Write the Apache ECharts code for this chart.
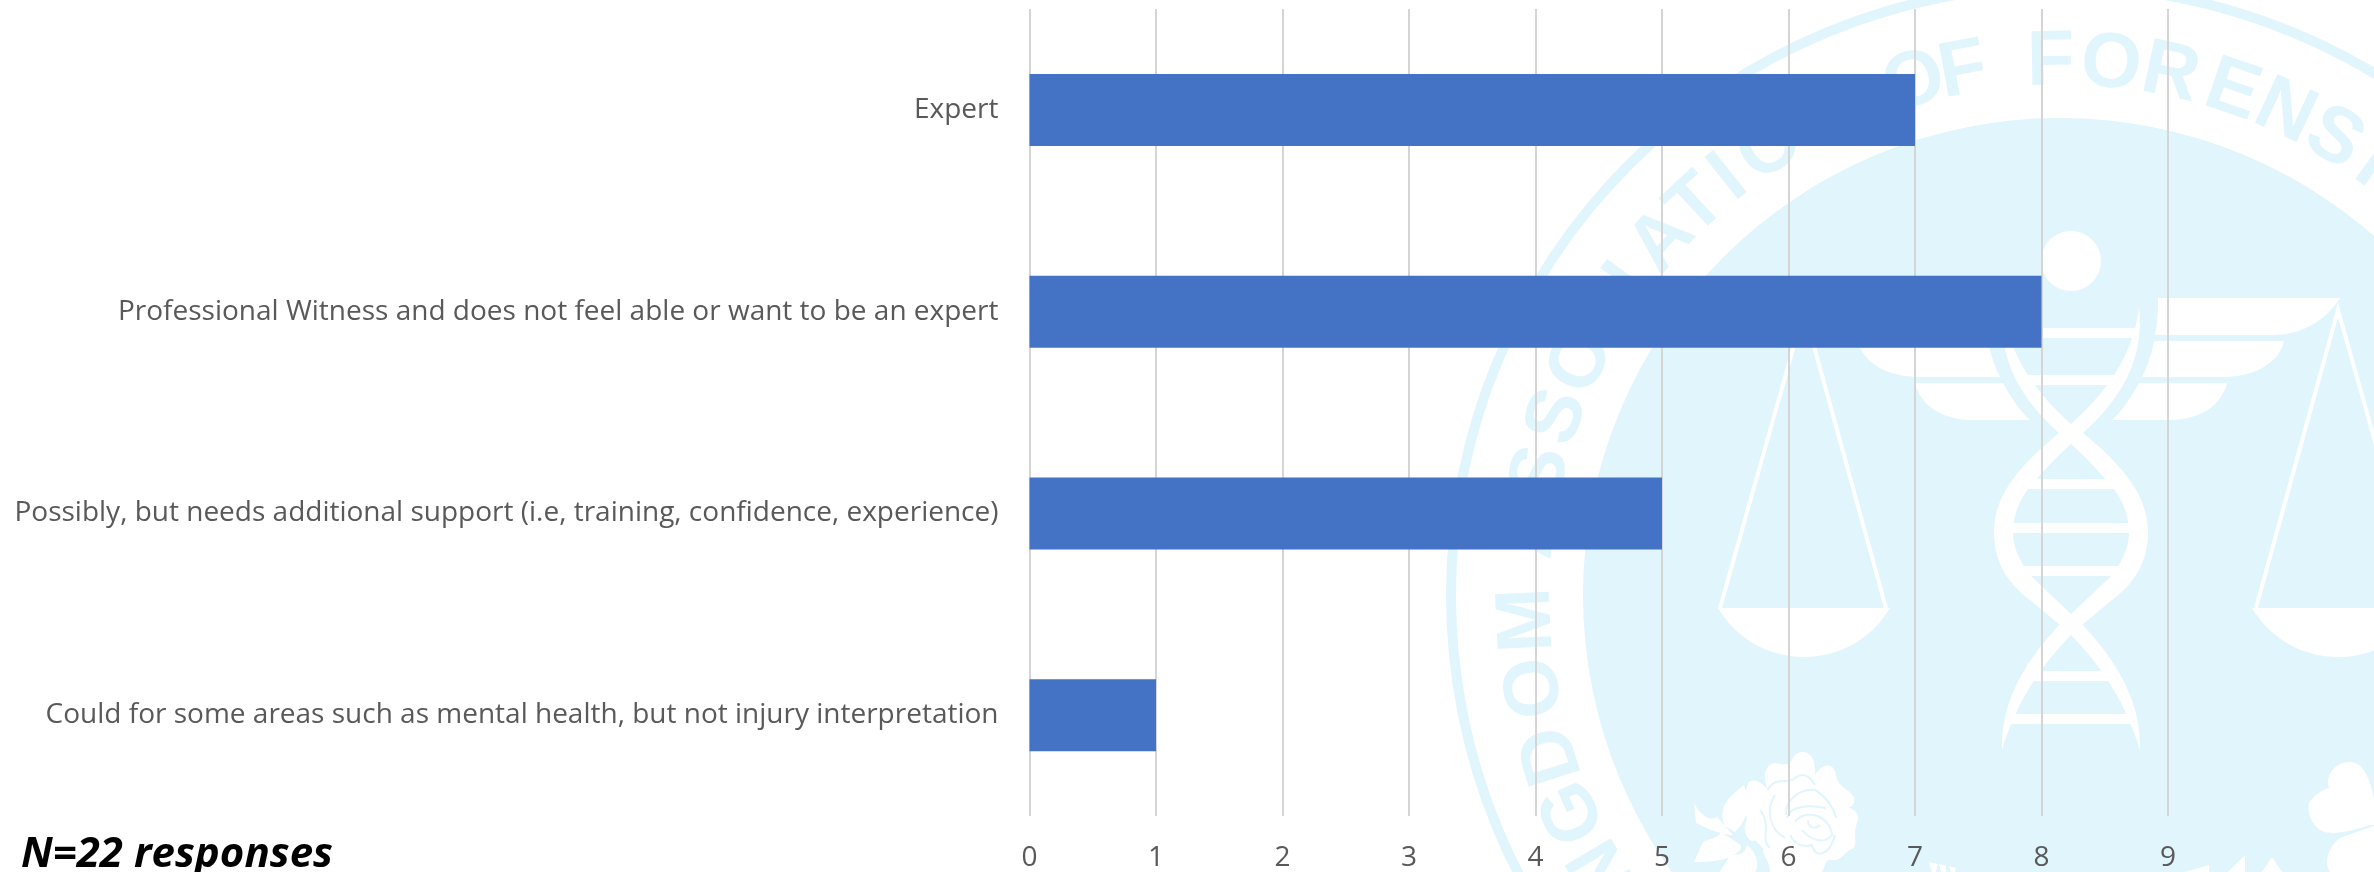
<!DOCTYPE html>
<html>
<head>
<meta charset="utf-8">
<title>Expert or professional witness</title>
<script src="https://cdn.jsdelivr.net/npm/echarts@6/dist/echarts.min.js"></script>
<style>
  html, body { margin: 0; padding: 0; background: #fff; }
  #main { width: 2374px; height: 872px; }
</style>
</head>
<body>
<div id="main"></div>
<script>
// chart data
var categories = [
  'Expert',
  'Professional Witness and does not feel able or want to be an expert',
  'Possibly, but needs additional support (i.e, training, confidence, experience)',
  'Could for some areas such as mental health, but not injury interpretation'
];
var responses = [7, 8, 5, 1];
var tickMax = 9;
var note = 'N=22 responses';

// watermark logo behind the chart
var logoBlue = '#e1f5fd';
var logoX = 2060, logoY = 595, logoAxis = 2071;
var ringLetters = 'NGDOMASSOCIATIONOFFORENSIC'.split('');
var ringAngles = [-121, -114, -107.5, -100, -92.7, -83, -76.8, -70.5, -64, -58.5, -54, -48.3, -43,
  -38.5, -33, -26, -15.9, -10.5, -1, 5.5, 12, 18.9, 25, 31, 36, 41];

// graphic has no plain path type, so each svg path gets registered as a shape
var pathCount = 0;
function logoPath(d, style) {
  var name = 'logoPath' + (pathCount++);
  echarts.graphic.registerShape(name, echarts.graphic.extendPath(d, {}));
  return { type: name, style: style || { fill: '#fff' } };
}
function swirl(d) {
  return logoPath(d, { fill: 'none', stroke: logoBlue, lineWidth: 2 });
}
// the wings, scales and dna are symmetric around the logo axis
function mirror(d) {
  return d.replace(/(\d+) (\d+)/g, function (m, x, y) {
    return (2 * logoAxis - Number(x)) + ' ' + y;
  });
}
function dot(x, y, r, fill) {
  return { type: 'circle', shape: { cx: x, cy: y, r: r }, style: { fill: fill || '#fff' } };
}

function buildLogo() {
  var items = [
    { type: 'ring', shape: { cx: logoX, cy: logoY, r: 614, r0: 604 }, style: { fill: logoBlue } },
    dot(logoX, logoY, 477, logoBlue)
  ];
  ringLetters.forEach(function (ch, i) {
    var a = ringAngles[i] * Math.PI / 180;
    items.push({
      type: 'text',
      x: logoX + 532 * Math.sin(a),
      y: logoY - 532 * Math.cos(a),
      rotation: -a,
      style: {
        text: ch, fill: logoBlue, align: 'center', verticalAlign: 'middle',
        font: 'bold 78px "Liberation Sans"'
      }
    });
  });

  // head
  items.push(dot(logoAxis, 261, 30));

  // wings, scales and dna strand, each drawn twice
  var thinLine = { fill: 'none', stroke: '#fff', lineWidth: 4 };
  [
    ['M2158 298 L2340 298 C2325 322 2300 335 2273 335 L2155 335 C2158 320 2158 310 2158 298 Z'],
    ['M2154 341 L2284 341 C2280 362 2255 377 2223 377 L2142 377 C2148 365 2152 352 2154 341 Z'],
    ['M2139 383 L2227 383 C2222 405 2200 420 2170 420 L2112 420 C2125 408 2132 395 2139 383 Z'],
    ['M2256 608 L2338 310 L2422 608', thinLine],
    ['M2252 608 L2424 608 C2405 640 2372 657 2338 657 C2304 657 2271 640 2252 608 Z'],
    ['M2139 307 C2135 345 2115 385 2071 424 L2059 433 C2020 465 1994 495 1994 532 C1994 565 2010 585 2030 600 L2060 625 L2071 635 C2100 665 2125 700 2140 750 C2141 710 2125 670 2083 625 L2071 614 L2032 577 C2022 565 2013 550 2013 532 C2013 515 2020 500 2028 489 C2040 475 2055 458 2071 444 L2083 433 C2120 400 2145 360 2139 307 Z']
  ].forEach(function (p) {
    items.push(logoPath(p[0], p[1]), logoPath(mirror(p[0]), p[1]));
  });

  // dna rungs: half width from the axis, then y
  [[66, 333], [45, 380], [43, 484], [58, 528], [48, 571], [42, 676], [63, 719]].forEach(function (r) {
    items.push({
      type: 'line',
      shape: { x1: logoAxis - r[0], y1: r[1], x2: logoAxis + r[0], y2: r[1] },
      style: { stroke: '#fff', lineWidth: 10 }
    });
  });

  // rose with its leaves
  [
    'M1803 752 C1815 752 1816 770 1815 775 C1825 760 1835 765 1836 775 C1838 790 1855 790 1854 800 C1855 808 1845 810 1838 808 C1850 805 1860 812 1858 820 C1852 835 1858 840 1854 848 C1845 850 1842 862 1832 860 C1825 858 1826 865 1822 872 L1770 872 C1770 860 1762 855 1763 848 L1755 840 C1750 845 1740 830 1747 820 C1745 805 1740 800 1749 782 C1755 778 1762 782 1768 790 C1762 775 1765 765 1775 763 C1785 765 1790 765 1792 760 C1795 752 1800 752 1803 752 Z',
    'M1744 785 C1748 800 1752 815 1735 832 L1725 826 C1720 815 1722 805 1732 795 Z',
    'M1694 803 C1700 815 1710 822 1717 817 L1733 835 C1720 835 1700 825 1696 823 Z',
    'M1721 832 C1735 842 1745 845 1740 850 C1730 860 1715 862 1694 862 L1703 842 C1712 838 1718 838 1721 832 Z',
    'M1747 845 C1760 855 1758 870 1755 872 L1720 872 L1730 855 C1738 855 1745 855 1747 845 Z'
  ].forEach(function (d) { items.push(logoPath(d)); });
  [
    'M1768 790 C1775 775 1790 785 1795 778 C1805 770 1812 780 1815 785',
    'M1786 815 C1785 800 1800 788 1815 790 C1825 795 1835 810 1836 818',
    'M1787 818 C1790 805 1810 805 1826 808',
    'M1795 822 C1805 808 1830 815 1832 835 C1825 845 1810 840 1802 830',
    'M1808 820 C1808 828 1815 830 1820 825',
    'M1775 795 C1765 810 1770 830 1785 838',
    'M1760 810 C1772 825 1760 840 1770 848',
    'M1790 835 C1795 845 1802 848 1812 845 C1815 860 1830 855 1835 835'
  ].forEach(function (d) { items.push(swirl(d)); });

  // shamrock and the small spikes along the bottom
  [
    'M2350 762 C2365 762 2372 785 2374 800 L2374 825 L2370 825 C2355 830 2335 835 2325 832 C2310 828 2305 805 2311 800 C2315 795 2322 790 2329 788 C2325 775 2335 762 2350 762 Z',
    'M2374 826 L2340 838 C2325 850 2325 865 2330 872 L2374 872 Z',
    'M2185 872 L2209 865 L2209 872 Z',
    'M2228 872 L2245 855 L2245 872 Z',
    'M2262 872 L2272 857 L2282 872 Z',
    'M1929 862 L1938 864 L1936 872 L1932 872 Z',
    'M1939 864 L1946 866 L1946 872 L1941 872 Z',
    'M1949 866 L1956 868 L1955 872 L1951 872 Z'
  ].forEach(function (d) { items.push(logoPath(d)); });
  return items;
}

var myChart = echarts.init(document.getElementById('main'), null, { renderer: 'canvas' });

var option = {
  backgroundColor: '#fff',
  animation: false,
  title: {
    text: note,
    left: 16,
    top: 829,
    textStyle: { fontFamily: 'Open Sans', fontSize: 42, fontWeight: 'bold', fontStyle: 'italic', color: '#000' }
  },
  grid: { left: 1029.5, top: 9, width: 1138.5, height: 807, containLabel: false },
  graphic: { elements: [{ type: 'group', z: -10, silent: true, children: buildLogo() }] },
  xAxis: {
    type: 'value',
    min: 0,
    max: tickMax,
    interval: 1,
    axisLine: { show: false },
    axisTick: { show: false },
    axisLabel: { color: '#595959', fontFamily: 'Open Sans', fontSize: 28, margin: 28 },
    splitLine: { show: true, lineStyle: { color: '#d5d5d5', width: 2 } }
  },
  yAxis: {
    type: 'category',
    inverse: true,
    data: categories,
    axisLine: { show: false },
    axisTick: { show: false },
    axisLabel: { color: '#595959', fontFamily: 'Open Sans', fontSize: 28, margin: 31, interval: 0 }
  },
  series: [{
    type: 'bar',
    data: responses,
    barWidth: 72,
    itemStyle: { color: '#4472c4' }
  }]
};

myChart.setOption(option);
</script>
</body>
</html>
